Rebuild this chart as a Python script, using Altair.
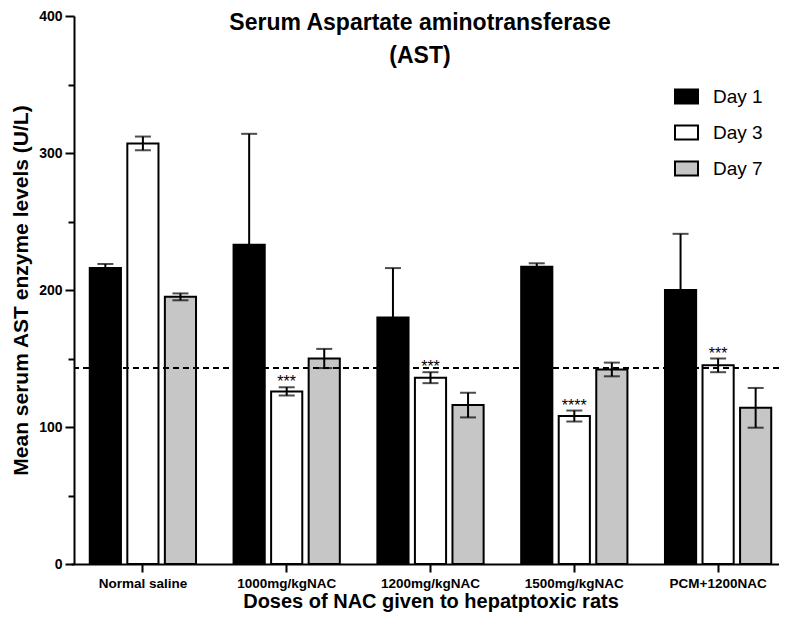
import altair as alt
import pandas as pd

groups = ["Normal saline", "1000mg/kgNAC", "1200mg/kgNAC", "1500mg/kgNAC", "PCM+1200NAC"]
days = ["Day 1", "Day 3", "Day 7"]
day1_mean = [216, 233, 180, 217, 200]
day1_err = [3, 81, 36, 2.5, 41]
day3_mean = [307, 126, 136, 108, 145]
day3_err = [5, 3, 4, 4, 5]
day7_mean = [195, 150, 116, 142, 114]
day7_err = [2.5, 7, 9, 5, 14.5]
day3_sig = ["", "***", "***", "****", "***"]
reference_line = [143]
y_tick_values = [0, 50, 100, 150, 200, 250, 300, 350, 400]
fill_colors = ["#000000", "#ffffff", "#c6c6c6"]
title_lines = ["Serum Aspartate aminotransferase", "(AST)"]

rows = []
for d, means, errs in zip(days, [day1_mean, day3_mean, day7_mean], [day1_err, day3_err, day7_err]):
    for i, g in enumerate(groups):
        rows.append({
            "group": g, "day": d, "value": means[i],
            "lower": means[i] - errs[i], "upper": means[i] + errs[i],
            "sig": day3_sig[i] if d == "Day 3" else "",
        })
df = pd.DataFrame(rows)

FONT = "Liberation Sans"

x_axis = alt.Axis(
    title="Doses of NAC given to hepatptoxic rats", labelAngle=0,
    labelFontSize=13.5, labelFontWeight="bold", labelPadding=4,
    titleFontSize=20, titleFontWeight="bold", titlePadding=2,
    tickSize=8, tickWidth=2, domainWidth=2, domainColor="black",
    tickColor="black", labelColor="black", titleColor="black",
)
y_axis = alt.Axis(
    title="Mean serum AST enzyme levels (U/L)", values=y_tick_values,
    labelExpr="datum.value % 100 === 0 ? datum.label : ''",
    labelFontSize=14, labelFontWeight="bold", labelPadding=3,
    titleFontSize=21, titleFontWeight="bold", titlePadding=7,
    tickSize={"condition": {"test": "datum.value % 100 === 0", "value": 9}, "value": 6},
    tickWidth=2, domainWidth=2, domainColor="black", tickColor="black",
    labelColor="black", titleColor="black", grid=False,
)

x_enc = alt.X(
    "group:N", sort=groups,
    scale=alt.Scale(range=[-3, 716], paddingInner=0, paddingOuter=0),
    axis=x_axis,
)
xoff = alt.XOffset("day:N", sort=days, scale=alt.Scale(paddingInner=0.17, paddingOuter=0.5))
y_scale = alt.Scale(domain=[0, 400], nice=False)

bars = alt.Chart(df).mark_bar(stroke="black", strokeWidth=2).encode(
    x=x_enc, xOffset=xoff,
    y=alt.Y("value:Q", scale=y_scale, axis=y_axis),
    fill=alt.Fill(
        "day:N", sort=days,
        scale=alt.Scale(domain=days, range=fill_colors),
        legend=alt.Legend(
            title=None, orient="none", legendX=600, legendY=68, padding=0,
            symbolType="M-1,-0.6087H1V0.6087H-1Z", symbolSize=529,
            symbolStrokeWidth=2, symbolStrokeColor="black", symbolOpacity=1,
            labelFontSize=19, labelFont=FONT, labelColor="black",
            labelOffset=14, rowPadding=12,
        ),
    ),
)

ref = alt.Chart(pd.DataFrame({"ref": reference_line})).mark_rule(
    color="black", strokeWidth=2, strokeDash=[6, 4]
).encode(y=alt.Y("ref:Q", scale=y_scale, axis=y_axis))

err = alt.Chart(df).mark_rule(color="black", strokeWidth=2).encode(
    x=x_enc, xOffset=xoff,
    y=alt.Y("lower:Q", scale=y_scale, axis=y_axis), y2="upper:Q",
)
cap_hi = alt.Chart(df).mark_tick(color="black", orient="horizontal", size=16, thickness=2).encode(
    x=x_enc, xOffset=xoff, y=alt.Y("upper:Q", scale=y_scale, axis=y_axis),
)
cap_lo = alt.Chart(df).mark_tick(color="black", orient="horizontal", size=16, thickness=2).encode(
    x=x_enc, xOffset=xoff, y=alt.Y("lower:Q", scale=y_scale, axis=y_axis),
)
stars = alt.Chart(df[df["sig"] != ""]).mark_text(
    fontSize=16, color="black", baseline="alphabetic", dy=0, font=FONT
).encode(
    x=x_enc, xOffset=xoff, y=alt.Y("upper:Q", scale=y_scale, axis=y_axis), text="sig:N",
)

title = alt.Chart(pd.DataFrame({"t": [title_lines]})).mark_text(
    fontSize=23, fontWeight="bold", font=FONT, color="black",
    align="center", baseline="alphabetic", lineHeight=33,
).encode(x=alt.value(346), y=alt.value(14), text="t")

chart = alt.layer(bars, ref, err, cap_hi, cap_lo, stars, title).properties(
    width=705, height=548,
    autosize=alt.AutoSizeParams(type="none"),
    padding={"left": 66, "top": 8, "right": 0, "bottom": 48},
).configure(font=FONT).configure_view(stroke=None)

chart.save("out.html", embed_options={"renderer": "svg", "actions": False})
